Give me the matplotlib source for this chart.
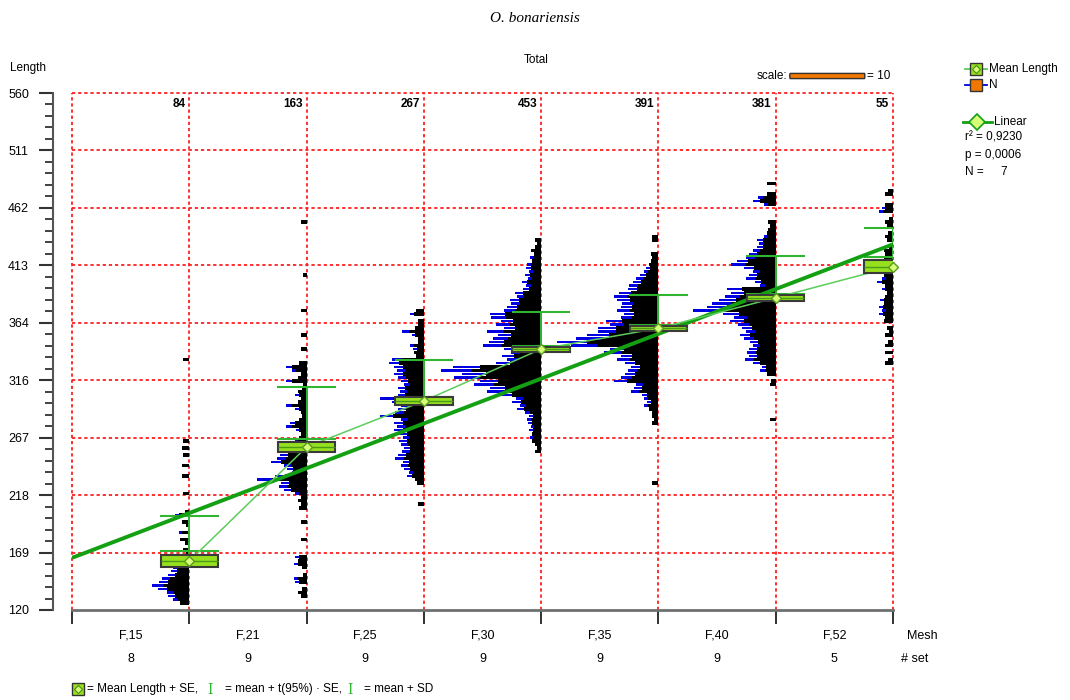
import numpy as np
import matplotlib
matplotlib.use('Agg')
import matplotlib.pyplot as plt
from matplotlib.lines import Line2D
from matplotlib.patches import Rectangle, FancyBboxPatch
from matplotlib.ticker import FixedLocator, AutoMinorLocator
import matplotlib.transforms as mtransforms

plt.rcParams['font.family'] = ['Liberation Sans', 'DejaVu Sans']

# ---------------- data ----------------
title = 'O. bonariensis'
subtitle = 'Total'
mesh_labels = ['F,15', 'F,21', 'F,25', 'F,30', 'F,35', 'F,40', 'F,52']
n_sets = [8, 9, 9, 9, 9, 9, 5]
n_fish = [84, 163, 267, 453, 391, 381, 55]
mean_len = [161.7, 258.7, 297.9, 342.1, 359.7, 385.8, 412.2]
se_len = [5.0, 4.5, 3.1, 2.1, 2.1, 2.6, 5.4]
ci_len = [8.8, 7.2, 3.0, 3.0, 2.5, 3.2, 8.0]
sd_len = [38.3, 51.3, 34.9, 31.5, 28.3, 35.2, 33.2]
ytick_vals = [120, 168.9, 217.8, 266.7, 315.6, 364.4, 413.3, 462.2, 511.1, 560]
ytick_labels = ['120', '169', '218', '267', '316', '364', '413', '462', '511', '560']
r2_text = '0,9230'
p_text = '0,0006'
n_groups_text = '7'
scale_count = 10

# length-frequency distributions (3 mm classes), first class centre per group
hist_step = 3
hist_start = [126, 132, 207, 255, 225, 282, 327]
hist_f15 = [1.2, 2.2, 2.8, 3.0, 4.2, 5.0, 4.0, 3.6, 2.8, 2.4,
            2.2, 1.6, 1.2, 0.6, 0.5, 0.9, 0, 0.6, 1.2, 0,
            1.4, 0, 0.5, 1.0, 0, 1.9, 0.6, 0, 0, 0,
            0, 0.8, 0, 0, 0, 0, 1.0, 0, 0, 1.0,
            0, 0, 0.8, 0, 1.0, 0, 0.8, 0, 0, 0,
            0, 0, 0, 0, 0, 0, 0, 0, 0, 0,
            0, 0, 0, 0, 0, 0, 0, 0, 0, 0.8]
hist_f21 = [0.8, 1.2, 0.6, 0, 1.5, 1.7, 0.5, 0, 0.6, 1.7,
            1.2, 1.5, 0, 0, 0, 0, 0.8, 0, 0, 0,
            0, 0.8, 0, 0, 0, 1.0, 0.8, 1.2, 0.8, 1.5,
            3.0, 3.7, 3.4, 6.6, 4.2, 2.0, 2.6, 3.0, 4.8, 4.0,
            3.6, 2.5, 2.2, 2.8, 1.6, 1.0, 0.8, 1.4, 2.8, 2.2,
            1.0, 0.6, 0.8, 1.5, 2.8, 1.2, 0.8, 1.5, 1.2, 0.6,
            0.5, 2.8, 1.2, 0.8, 2.0, 2.8, 1.0, 0, 0, 0,
            0.8, 0, 0, 0, 0.8, 0, 0, 0, 0, 0,
            0, 0.8, 0, 0, 0, 0, 0, 0, 0, 0,
            0, 0.5, 0, 0, 0, 0, 0, 0, 0, 0,
            0, 0, 0, 0, 0, 0, 0.8]
hist_f25 = [0, 0.8, 0, 0, 0, 0, 0, 0.9, 1.2, 2.3,
            2.0, 2.6, 3.1, 2.8, 3.8, 3.4, 2.9, 2.6, 3.0, 3.3,
            2.8, 3.3, 4.0, 3.6, 4.0, 3.0, 5.8, 3.8, 3.4, 3.0,
            4.2, 5.8, 3.5, 3.2, 3.5, 2.6, 3.1, 3.4, 4.0, 3.6,
            4.0, 4.7, 4.2, 1.0, 1.3, 1.4, 1.8, 0.8, 0.8, 1.6,
            2.9, 1.2, 0.8, 0.8, 0, 1.8, 1.0]
hist_f30 = [0.8, 0.6, 0.8, 1.2, 1.5, 1.2, 1.6, 1.4, 1.7, 1.9,
            1.6, 2.2, 3.2, 2.8, 3.9, 3.4, 5.5, 7.2, 6.8, 9.0,
            8.2, 11.6, 10.5, 13.4, 11.7, 6.0, 4.5, 5.2, 4.0, 5.0,
            7.7, 7.0, 6.4, 5.8, 7.2, 5.0, 6.0, 5.4, 6.7, 6.8,
            5.0, 4.5, 4.0, 4.2, 3.2, 3.5, 2.4, 2.0, 2.6, 1.8,
            2.2, 1.6, 2.0, 1.9, 1.2, 1.5, 1.0, 1.3, 0.8, 0.6,
            0.8]
hist_f35 = [0, 0.8, 0, 0, 0, 0, 0, 0, 0, 0,
            0, 0, 0, 0, 0, 0, 0, 0, 0.8, 0.6,
            0.8, 0.8, 1.2, 1.9, 1.5, 1.9, 2.2, 3.7, 3.2, 3.0,
            5.9, 5.0, 4.4, 4.1, 3.6, 4.5, 5.5, 5.0, 7.2, 6.5,
            11.7, 13.5, 11.0, 9.5, 8.0, 8.1, 6.5, 7.0, 5.0, 4.6,
            5.5, 5.0, 4.8, 5.5, 5.9, 5.2, 4.0, 3.9, 3.4, 3.0,
            2.4, 1.9, 1.6, 1.2, 1.0, 0.8, 1.0, 0, 0, 0,
            0.8, 0.8]
hist_f40 = [0.8, 0, 0, 0, 0, 0, 0, 0, 0, 0,
            0.8, 0.6, 0, 1.2, 2.1, 1.8, 3.0, 4.1, 3.5, 3.8,
            3.6, 3.0, 3.4, 4.2, 4.8, 4.0, 4.5, 5.0, 6.1, 5.5,
            7.0, 11.0, 9.2, 8.5, 7.5, 6.8, 6.0, 6.5, 2.1, 2.8,
            3.9, 3.5, 3.0, 4.2, 5.9, 5.2, 3.9, 3.5, 3.0, 2.5,
            2.2, 2.5, 1.6, 1.2, 1.0, 0.8, 1.0, 0, 0, 0,
            0, 1.5, 3.0, 2.4, 1.2, 0, 0, 1.2]
hist_f52 = [0, 1.0, 0.6, 0, 1.0, 0, 1.0, 0.6, 0, 1.0,
            0.5, 0.8, 0, 1.2, 1.0, 1.9, 1.4, 1.9, 1.2, 1.7,
            1.0, 0.8, 1.5, 1.0, 2.1, 1.4, 1.2, 1.5, 1.0, 1.3,
            0.8, 1.2, 1.0, 1.2, 0.5, 0, 0.8, 1.0, 0.6, 0,
            0.8, 1.0, 0.5, 0, 1.9, 1.5, 1.0, 0, 0, 1.0,
            0.6]
hists = [hist_f15, hist_f21, hist_f25, hist_f30, hist_f35, hist_f40, hist_f52]

# ---------------- style ----------------
W, H = 1070, 700
COUNT_W = 0.064          # x-units per fish
RED = '#ff2020'
BLUE = '#0000e0'
LIME = '#96e01e'
GREEN_SD = '#2fb52f'
GREEN_LIN = '#13a013'
GREEN_MEAN = '#5ccc5c'

fig = plt.figure(figsize=(W / 100, H / 100), dpi=100)
ax = fig.add_axes([72 / W, 90 / H, 821 / W, 517 / H])
ax.set_xlim(0, 7)
ax.set_ylim(120, 560)

def P(x, y):
    return (x / W, 1 - y / H)

# grid
dot = (0, (1.8, 1.6))
for yv in ytick_vals[1:]:
    ax.axhline(yv, color=RED, lw=1.3, ls=dot, zorder=1, clip_on=False)
for xv in range(8):
    ax.axvline(xv, color=RED, lw=1.3, ls=dot, zorder=1, clip_on=False)

xs = np.arange(1, 8)

# histograms: blue frequency streaks with black core
for k, (start, counts) in enumerate(zip(hist_start, hists)):
    v = np.array(counts, dtype=float)
    centers = start + hist_step * np.arange(len(v))
    black = np.where(v > 1.3, v * 0.7, v)
    ax.barh(centers, -v * COUNT_W, left=xs[k], height=hist_step * 0.7,
            color=BLUE, lw=0, zorder=2)
    ax.barh(centers, -black * COUNT_W, left=xs[k], height=hist_step,
            color='black', lw=0, zorder=2.1)

means = np.array(mean_len)
se = np.array(se_len)
ci = np.array(ci_len)
sd = np.array(sd_len)

# SD and CI
half = 0.25
ax.vlines(xs, means, means + sd, color=GREEN_SD, lw=1.4, zorder=3)
ax.hlines(means + sd, xs - half, xs + half, color=GREEN_SD, lw=1.5, zorder=3)
ax.hlines(means + ci, xs - half, xs + half, color=GREEN_SD, lw=1.5, zorder=3)

# linear regression
coef = np.polyfit(xs, means, 1)
xl = np.array([0, 7])
ax.plot(xl, np.polyval(coef, xl), color=GREEN_LIN, lw=2.8, zorder=3.5,
        solid_capstyle='butt')
# mean line
ax.plot(xs, means, color=GREEN_MEAN, lw=1.1, zorder=3.6)

# SE boxes
for k in range(7):
    ax.add_patch(Rectangle((xs[k] - 0.245, means[k] - se[k]), 0.49, 2 * se[k],
                           facecolor=LIME, edgecolor='#3a3a3a', lw=1.5, zorder=4))
ax.hlines(means, xs - 0.245, xs + 0.245, color='#4a9a1a', lw=1.0, zorder=4.1)
ax.plot(xs, means, ls='none', marker='D', ms=5, mfc='#d6ff78', mec='#5a9a20',
        mew=1, zorder=5, clip_on=False)

# count labels
bt = mtransforms.blended_transform_factory(ax.transData, ax.transAxes)
for k in range(7):
    ax.text(xs[k] - 0.035, (610 - 104) / 517, str(n_fish[k]), transform=bt,
            ha='right', va='center', fontsize=8.5, fontweight='bold', zorder=6)

# scale bar
sx0 = 6.12
sy = (610 - 76) / 517
ax.add_patch(FancyBboxPatch((sx0, sy - 0.005), scale_count * COUNT_W, 0.010,
                            boxstyle='round,pad=0,rounding_size=0.004',
                            mutation_aspect=1, transform=bt,
                            facecolor='#f07800', edgecolor='#333333',
                            lw=1.0, clip_on=False, zorder=6))
ax.text(sx0 - 0.02, sy, 'scale:', transform=bt, ha='right', va='center',
        fontsize=8.5)
ax.text(sx0 + scale_count * COUNT_W + 0.02, sy, '= ' + str(scale_count),
        transform=bt, ha='left', va='center', fontsize=8.5)

# axes styling
for s in ['top', 'right']:
    ax.spines[s].set_visible(False)
ax.spines['left'].set_position(('outward', 14))
ax.spines['left'].set_color('#555555')
ax.spines['left'].set_linewidth(1.5)
ax.spines['bottom'].set_color('#707070')
ax.spines['bottom'].set_linewidth(2.0)
ax.spines['bottom'].set_zorder(6)

ax.yaxis.set_major_locator(FixedLocator(ytick_vals))
ax.set_yticklabels(ytick_labels)
ax.yaxis.set_minor_locator(AutoMinorLocator(5))
ax.tick_params(axis='y', which='major', length=10, width=1.5, color='#333333',
               pad=7, labelsize=9)
ax.tick_params(axis='y', which='minor', length=6, width=1.3, color='#333333')
ax.set_xticks(range(8))
ax.set_xticklabels([])
ax.tick_params(axis='x', which='major', length=10, width=1.3, color='#222222')

for k in range(7):
    ax.text(k + 0.5, -26 / 517, mesh_labels[k], transform=bt, ha='center',
            va='center', fontsize=9)
    ax.text(k + 0.5, -49 / 517, str(n_sets[k]), transform=bt, ha='center',
            va='center', fontsize=9)

fig.text(*P(907, 636), 'Mesh', ha='left', va='center', fontsize=9)
fig.text(*P(901, 659), '# set', ha='left', va='center', fontsize=9)

# titles
fig.text(*P(535, 18), title, ha='center', va='center', fontsize=11,
         style='italic', family=['Liberation Serif', 'DejaVu Serif'])
fig.text(*P(536, 60), subtitle, ha='center', va='center', fontsize=8.5)
fig.text(*P(10, 68), 'Length', ha='left', va='center', fontsize=8.5)

# right legend
def fline(x1, x2, y, **kw):
    fig.add_artist(Line2D([x1 / W, x2 / W], [1 - y / H] * 2,
                          transform=fig.transFigure, **kw))

def fmark(x, y, **kw):
    fig.add_artist(Line2D([x / W], [1 - y / H], transform=fig.transFigure,
                          ls='none', **kw))

fline(965, 987, 69, color=GREEN_MEAN, lw=1.3)
fmark(976, 69, marker='s', ms=9, mfc=LIME, mec='#333333', mew=1)
fmark(976, 69, marker='D', ms=4, mfc='#d6ff78', mec='#4a8a10', mew=0.8)
fig.text(*P(989, 69), 'Mean Length', ha='left', va='center', fontsize=8.5)
fline(965, 987, 85, color=BLUE, lw=1.3)
fmark(976, 85, marker='s', ms=9, mfc='#f07800', mec='#333333', mew=1)
fig.text(*P(989, 85), 'N', ha='left', va='center', fontsize=8.5)
fline(963, 992, 122, color=GREEN_LIN, lw=2.0)
fmark(977, 122, marker='D', ms=8, mfc='#d6ff78', mec=GREEN_LIN, mew=1.2)
fig.text(*P(994, 122), 'Linear', ha='left', va='center', fontsize=8.5)
fig.text(*P(965, 138), 'r² = ' + r2_text, ha='left', va='center', fontsize=8.5)
fig.text(*P(965, 155), 'p = ' + p_text, ha='left', va='center', fontsize=8.5)
fig.text(*P(965, 172), 'N =', ha='left', va='center', fontsize=8.5)
fig.text(*P(1007, 172), n_groups_text, ha='right', va='center', fontsize=8.5)

# bottom legend
fmark(78, 689, marker='s', ms=9, mfc=LIME, mec='#333333', mew=1)
fmark(78, 689, marker='D', ms=4, mfc='#d6ff78', mec='#4a8a10', mew=0.8)
fig.text(*P(87, 689), '= Mean Length + SE,', ha='left', va='center', fontsize=8.5)
fig.text(*P(210, 690), 'I', ha='center', va='center', fontsize=10,
         color=GREEN_SD, family=['DejaVu Serif'])
fig.text(*P(225, 689), '= mean + t(95%) · SE,', ha='left', va='center', fontsize=8.5)
fig.text(*P(350, 690), 'I', ha='center', va='center', fontsize=10,
         color=GREEN_SD, family=['DejaVu Serif'])
fig.text(*P(364, 689), '= mean + SD', ha='left', va='center', fontsize=8.5)

fig.savefig('out.png', dpi=100)
